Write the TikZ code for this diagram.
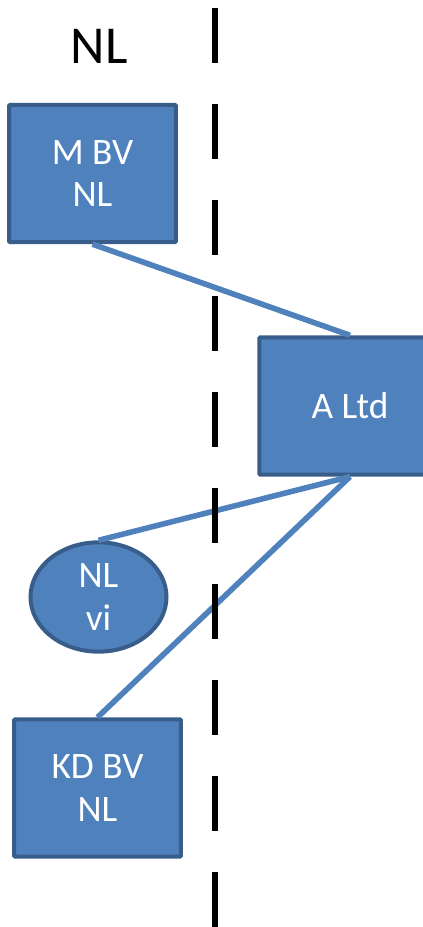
\documentclass[tikz,border=0pt]{standalone}
\usepackage{fontspec}
\setmainfont{Carlito}
\usetikzlibrary{shapes.geometric}

\definecolor{boxfill}{RGB}{79,129,189}
\definecolor{boxline}{RGB}{56,93,138}

\tikzset{
    entity/.style={draw=boxline, fill=boxfill, line width=3pt, text=white, align=center,
        inner sep=0pt, font=\fontsize{28}{32}\selectfont},
    company/.style={entity, rectangle, rounded corners=0.8pt},
    partner/.style={entity, ellipse},
    link/.style={draw=boxfill, line width=4.2pt},
    border/.style={draw=black, line width=4pt, dash pattern=on 41pt off 31pt},
}

\begin{document}
\begin{tikzpicture}[x=0.75pt,y=0.75pt,yscale=-1,xscale=1]
        \useasboundingbox (0,0) rectangle (423,927);
        \clip (0,0) rectangle (423,927);

        % Text Node
        \node (country) at (99,46) [inner sep=0pt, font=\fontsize{40}{48}\selectfont] {NL};

        %Shape: Rectangle
        \node (mbv) at (92.5,173.5) [company, minimum width=125pt, minimum height=103pt] {M BV\\NL};
        %Shape: Rectangle
        \node (altd) at (350,406) [company, minimum width=136pt, minimum height=103pt] {A Ltd};
        %Shape: Ellipse
        \node (nlvi) at (98.5,597) [partner, minimum width=102pt, minimum height=82pt] {NL\\vi};
        %Shape: Rectangle
        \node (kdbv) at (97.5,788) [company, minimum width=125pt, minimum height=103pt] {KD BV\\NL};

        %Straight Lines
        \draw [link] (mbv.south) -- (altd.north);
        \draw [link] (altd.south) -- (nlvi.north);
        \draw [link] (altd.south) -- (kdbv.north);

        %Straight Lines
        \coordinate (top) at (215,8);
        \coordinate (bottom) at (215,940);
        \draw [border] (top) -- (bottom);

\end{tikzpicture}
\end{document}
